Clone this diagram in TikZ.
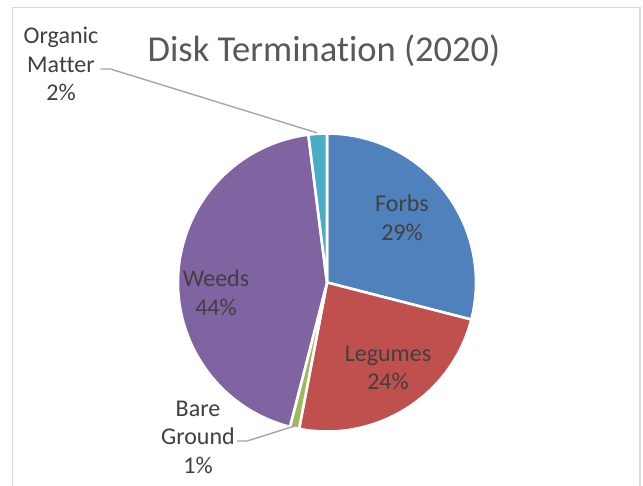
\documentclass[tikz,border=0pt]{standalone}
\usepackage{fontspec}
\setmainfont{Carlito}[Ligatures={NoCommon,NoRequired,NoContextual}, RawFeature={-liga;-clig;-dlig}]
\definecolor{forbs}{HTML}{4F81BD}
\definecolor{legumes}{HTML}{C0504D}
\definecolor{bare}{HTML}{9BBB59}
\definecolor{weeds}{HTML}{8064A2}
\definecolor{organic}{HTML}{4BACC6}
\definecolor{labeltxt}{HTML}{404040}
\definecolor{titletxt}{HTML}{595959}
\definecolor{framecol}{HTML}{D9D9D9}
\definecolor{leadercol}{HTML}{A6A6A6}
\tikzset{
  slice/.style={draw=white, line width=2.6pt, line join=round},
  lbl/.style={align=center, text=labeltxt, inner sep=0pt,
    font=\fontsize{24}{28.5}\selectfont},
  leader/.style={draw=leadercol, line width=1.4pt},
}
\begin{document}
\begin{tikzpicture}[x=1pt,y=-1pt]
\useasboundingbox[fill=white] (0,0) rectangle (643,485);
\draw[framecol, line width=1.6pt] (12.5,490) -- (12.5,7.5) -- (640,7.5) -- (640,490);
\node[text=titletxt, inner sep=0pt, font=\fontsize{36.5}{40}\selectfont] (title) at (324,51) {Disk Termination (2020)};
\begin{scope}[shift={(327,282.5)}, yscale=-1]
  \def\r{149}
  \fill[forbs, slice] (0,0) -- (90:\r) arc[start angle=90, end angle=-14.4, radius=\r] -- cycle;
  \fill[legumes, slice] (0,0) -- (-14.4:\r) arc[start angle=-14.4, end angle=-100.8, radius=\r] -- cycle;
  \fill[bare, slice] (0,0) -- (-100.8:\r) arc[start angle=-100.8, end angle=-104.4, radius=\r] -- cycle;
  \fill[weeds, slice] (0,0) -- (-104.4:\r) arc[start angle=-104.4, end angle=-262.8, radius=\r] -- cycle;
  \fill[organic, slice] (0,0) -- (97.2:\r) arc[start angle=97.2, end angle=90, radius=\r] -- cycle;
  \coordinate (omtip) at (93.8:\r+1);
  \coordinate (bgtip) at (-102.6:\r-2);
\end{scope}
\node[lbl] (forbs) at (402,218) {Forbs\\29\%};
\node[lbl] (legumes) at (388,368) {Legumes\\24\%};
\node[lbl] (weeds) at (216,293) {Weeds\\44\%};
\node[lbl] (bareg) at (198,437) {Bare\\Ground\\1\%};
\node[lbl] (organicm) at (61,64) {Organic\\Matter\\2\%};
\coordinate (omstart) at (organicm.east |- 0,69);
\coordinate (bgstart) at (bareg.east |- 0,441);
\draw[leader] ([xshift=2pt]omstart) -- ++(10,0) -- (omtip);
\draw[leader] ([xshift=2pt]bgstart) -- ++(10,0) -- (bgtip);
\end{tikzpicture}
\end{document}
